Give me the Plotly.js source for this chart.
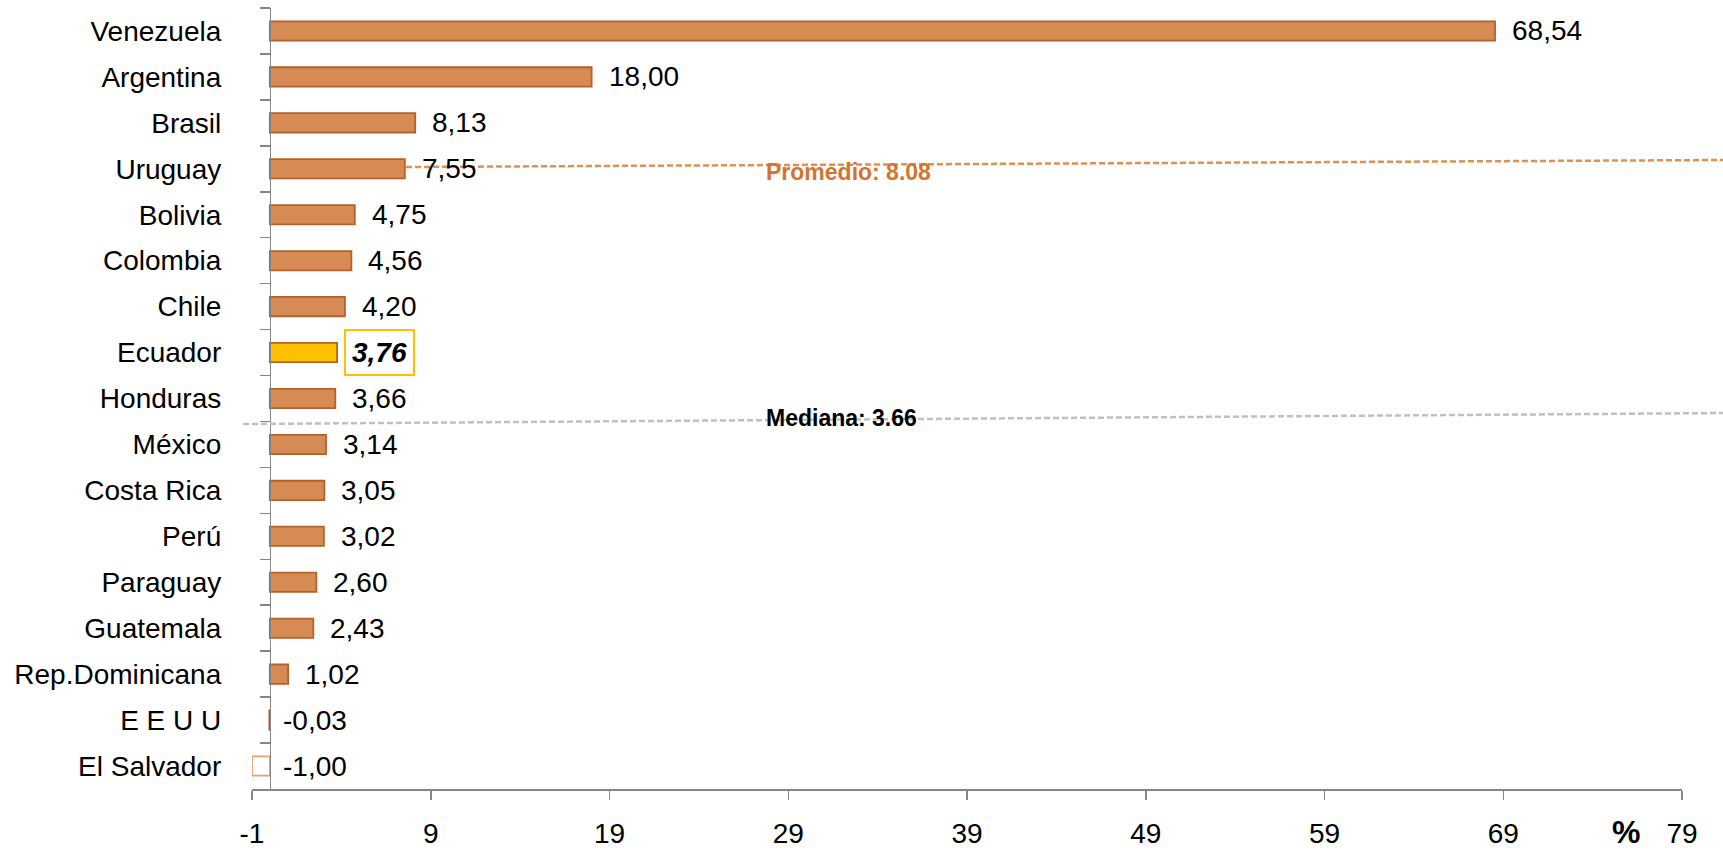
<!DOCTYPE html>
<html>
<head>
<meta charset="utf-8">
<script src="https://cdn.plot.ly/plotly-3.0.1.min.js"></script>
<style>html,body{margin:0;padding:0;background:#fff;}#chart{width:1723px;height:852px;}</style>
</head>
<body>
<div id="chart"></div>
<script>
const categories = ['Venezuela','Argentina','Brasil','Uruguay','Bolivia','Colombia','Chile','Ecuador','Honduras','México','Costa Rica','Perú','Paraguay','Guatemala','Rep.Dominicana','E E U U','El Salvador'];
const values = [68.54, 18.00, 8.13, 7.55, 4.75, 4.56, 4.20, 3.76, 3.66, 3.14, 3.05, 3.02, 2.60, 2.43, 1.02, -0.03, -1.00];
const highlightCategory = 'Ecuador';
const xTickVals = [-1, 9, 19, 29, 39, 49, 59, 69, 79];
const xTickText = ['-1', '9', '19', '29', '39', '49', '59', '69', '79'];

const BAR_FILL = '#D68A54', BAR_LINE = '#B5622A', HI_FILL = '#FFC000', NEG_LINE = '#E8A070';
const fmt = v => v.toFixed(2).replace('.', ',');

const mean = values.reduce((a, b) => a + b, 0) / values.length;
const sorted = [...values].sort((a, b) => a - b);
const median = sorted[Math.floor(sorted.length / 2)];

const fills = values.map((v, i) => categories[i] === highlightCategory ? HI_FILL : (v <= -0.5 ? '#FFFFFF' : BAR_FILL));
const lines = values.map((v, i) => v <= -0.5 ? NEG_LINE : BAR_LINE);

const trace = {
  type: 'bar', orientation: 'h',
  x: values, y: categories,
  width: 0.42,
  marker: {color: fills, line: {color: lines, width: 1.8}},
  hoverinfo: 'skip'
};

const annotations = values.map((v, i) => {
  const hi = categories[i] === highlightCategory;
  const a = {
    x: Math.max(v, 0), y: categories[i], xref: 'x', yref: 'y',
    xanchor: 'left', yanchor: 'middle', showarrow: false,
    text: hi ? '<b><i>' + fmt(v) + '</i></b>' : fmt(v),
    font: {size: 28, color: '#000'},
    xshift: v < 0 ? 11 : 15
  };
  if (hi) {
    a.bordercolor = '#FFC000'; a.borderwidth = 2; a.borderpad = 6; a.bgcolor = '#FFFFFF'; a.xshift = 7;
  }
  return a;
});

annotations.push({
  xref: 'paper', yref: 'paper', x: 0.358, y: 0.790, xanchor: 'left', yanchor: 'middle',
  showarrow: false, text: '<b>Promedio: ' + mean.toFixed(2) + '</b>',
  font: {size: 23, color: '#D4742F'}
});
annotations.push({
  xref: 'paper', yref: 'paper', x: 0.358, y: 0.475, xanchor: 'left', yanchor: 'middle',
  showarrow: false, text: '<b>Mediana: ' + median.toFixed(2) + '</b>',
  font: {size: 23, color: '#000'}
});
annotations.push({
  xref: 'paper', yref: 'paper', x: 0.9608, y: -0.055, xanchor: 'center', yanchor: 'middle',
  showarrow: false, text: '<b>%</b>', font: {size: 32, color: '#000'}
});

const shapes = [
  {type: 'line', xref: 'paper', yref: 'paper', x0: 0.1077, y0: 0.7964, x1: 1.0287, y1: 0.8054,
   line: {color: '#E0904F', width: 2.5, dash: '6px,3px'}},
  {type: 'line', xref: 'paper', yref: 'paper', x0: -0.0063, y0: 0.4673, x1: 1.0287, y1: 0.4814,
   line: {color: '#C0C0C0', width: 2.5, dash: '6px,3px'}}
];

const layout = {
  width: 1723, height: 852,
  margin: {l: 252, r: 41, t: 8, b: 63},
  paper_bgcolor: '#FFFFFF', plot_bgcolor: '#FFFFFF',
  font: {family: 'Liberation Sans, Arial, sans-serif', size: 28, color: '#000'},
  showlegend: false,
  bargap: 0.58,
  xaxis: {
    range: [-1, 79], tickmode: 'array', tickvals: xTickVals, ticktext: xTickText,
    ticks: 'outside', ticklen: 9, tickwidth: 1.5, tickcolor: '#868686',
    showline: true, linecolor: '#868686', linewidth: 1.5,
    showgrid: false, zeroline: false, tickfont: {size: 28, color: '#000'},
    ticklabelstandoff: 10, fixedrange: true
  },
  yaxis: {
    type: 'category', categoryorder: 'array', categoryarray: categories,
    autorange: 'reversed', anchor: 'free', position: 0.0125,
    ticks: 'outside', ticklen: 10, tickwidth: 1.5, tickcolor: '#868686', tickson: 'boundaries',
    showline: true, linecolor: '#868686', linewidth: 1.5,
    showgrid: false, zeroline: false, tickfont: {size: 28, color: '#000'},
    ticklabelstandoff: 43, fixedrange: true
  },
  annotations: annotations,
  shapes: shapes
};

Plotly.newPlot('chart', [trace], layout, {displayModeBar: false, staticPlot: true});
</script>
</body>
</html>
